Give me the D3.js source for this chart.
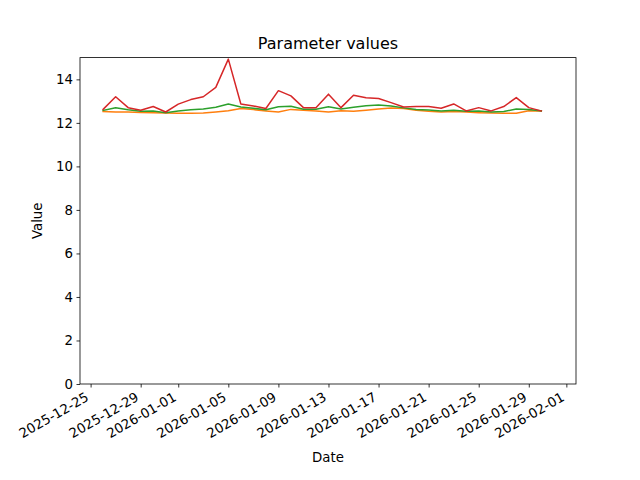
<!DOCTYPE html>
<html><head><meta charset="utf-8">
<script src="https://cdn.jsdelivr.net/npm/d3@7"></script>
<style>body{margin:0;background:#fff}svg{display:block;font-family:"DejaVu Sans",sans-serif}</style>
</head><body><svg id="c" width="640" height="480"></svg>
<script>
const startDate = "2025-12-26";
const nDays = 36;
const seriesOrange = [12.52,12.50,12.50,12.48,12.47,12.45,12.44,12.44,12.45,12.50,12.56,12.66,12.61,12.55,12.50,12.62,12.58,12.55,12.50,12.56,12.53,12.58,12.64,12.68,12.66,12.58,12.53,12.50,12.52,12.50,12.47,12.45,12.44,12.44,12.56,12.55];
const seriesGreen = [12.57,12.70,12.60,12.53,12.55,12.47,12.55,12.60,12.64,12.72,12.87,12.73,12.67,12.60,12.74,12.76,12.63,12.63,12.74,12.64,12.72,12.79,12.82,12.78,12.69,12.61,12.59,12.55,12.58,12.53,12.55,12.50,12.52,12.64,12.62,12.55];
const seriesRed = [12.62,13.20,12.70,12.58,12.75,12.50,12.86,13.07,13.20,13.63,14.93,12.87,12.78,12.66,13.48,13.24,12.70,12.70,13.32,12.70,13.27,13.15,13.12,12.93,12.73,12.75,12.75,12.67,12.87,12.55,12.70,12.55,12.75,13.16,12.70,12.55];
const xTickLabels = ["2025-12-25","2025-12-29","2026-01-01","2026-01-05","2026-01-09","2026-01-13","2026-01-17","2026-01-21","2026-01-25","2026-01-29","2026-02-01"];
const yTickValues = [0,2,4,6,8,10,12,14];
const xDomain = ["2025-12-24T03:40:00Z","2026-02-01T18:30:00Z"];
const yDomain = [0,15];

const dates = d3.range(nDays).map(i => d3.utcDay.offset(new Date(startDate+"T00:00:00Z"), i));
const series = [
  {name:"orange", values:seriesOrange, color:"#ff7f0e"},
  {name:"green", values:seriesGreen, color:"#2ca02c"},
  {name:"red", values:seriesRed, color:"#d62728"}
];

const L=80, R=576, T=57.6, B=384;
const svg = d3.select("#c");
const x = d3.scaleUtc().domain(xDomain.map(s=>new Date(s))).range([L,R]);
const y = d3.scaleLinear().domain(yDomain).range([B,T]);

const line = d3.line().x((d,i)=>x(dates[i])).y(d=>y(d));
const clip = svg.append("clipPath").attr("id","cp").append("rect").attr("x",L).attr("y",T).attr("width",R-L).attr("height",B-T);
series.forEach(s=>{
  svg.append("path").attr("clip-path","url(#cp)").attr("d",line(s.values)).attr("fill","none")
    .attr("stroke",s.color).attr("stroke-width",1.5).attr("stroke-linejoin","round").attr("stroke-linecap","square");
});

// x axis
const xTicks = xTickLabels.map(s=>new Date(s+"T00:00:00Z"));
const xAxis = svg.append("g").attr("transform",`translate(0,${B})`)
  .call(d3.axisBottom(x).tickValues(xTicks).tickSize(3.5).tickPadding(0).tickFormat(d3.utcFormat("%Y-%m-%d")));
xAxis.select(".domain").remove();
xAxis.selectAll(".tick line").attr("stroke","#000").attr("stroke-width",0.8);
xAxis.selectAll(".tick text").attr("y",null).attr("dy",null)
  .attr("font-size","13.33px").attr("fill","#000").attr("font-family","DejaVu Sans")
  .attr("text-anchor","end")
  .attr("transform","translate(-1.5,15.8) rotate(-30)");

// y axis
const yAxis = svg.append("g").attr("transform",`translate(${L},0)`)
  .call(d3.axisLeft(y).tickValues(yTickValues).tickSize(3.5).tickPadding(3.5).tickFormat(d3.format("d")));
yAxis.select(".domain").remove();
yAxis.selectAll(".tick line").attr("stroke","#000").attr("stroke-width",0.8);
yAxis.selectAll(".tick text").attr("font-size","13.33px").attr("fill","#000").attr("font-family","DejaVu Sans");

// frame
svg.append("rect").attr("x",L).attr("y",T).attr("width",R-L).attr("height",B-T)
  .attr("fill","none").attr("stroke","#000").attr("stroke-width",0.8);

svg.append("text").attr("x",(L+R)/2).attr("y",49).attr("text-anchor","middle")
  .attr("font-size","16px").text("Parameter values");
svg.append("text").attr("x",(L+R)/2).attr("y",462).attr("text-anchor","middle")
  .attr("font-size","13.33px").text("Date");
svg.append("text").attr("transform",`translate(42,${(T+B)/2}) rotate(-90)`).attr("text-anchor","middle")
  .attr("font-size","13.33px").text("Value");
</script></body></html>
